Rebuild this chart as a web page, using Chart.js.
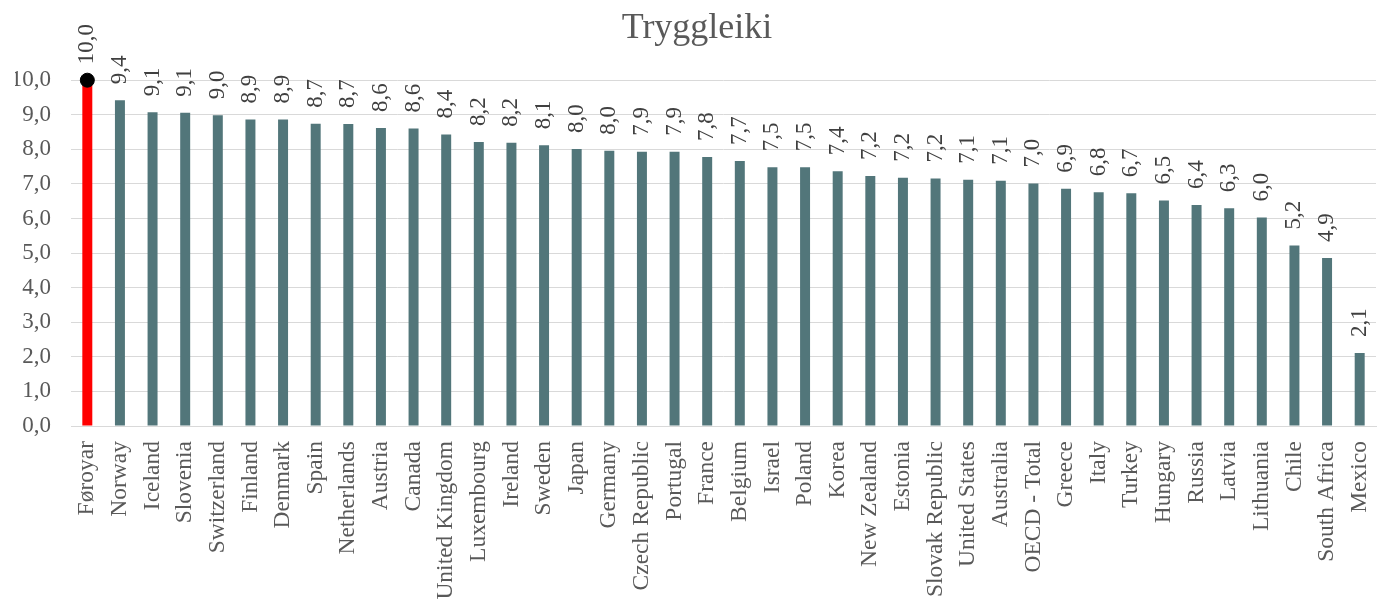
<!DOCTYPE html>
<html>
<head>
<meta charset="utf-8">
<script src="https://cdn.jsdelivr.net/npm/chart.js@4"></script>
<style>
  html, body { margin: 0; padding: 0; background: #ffffff; }
  #wrap { width: 1384px; height: 602px; position: relative; }
</style>
</head>
<body>
<div id="wrap"><canvas id="c"></canvas></div>
<script>
const chartTitle = "Tryggleiki";
const categories = ["Føroyar","Norway","Iceland","Slovenia","Switzerland","Finland","Denmark","Spain","Netherlands","Austria","Canada","United Kingdom","Luxembourg","Ireland","Sweden","Japan","Germany","Czech Republic","Portugal","France","Belgium","Israel","Poland","Korea","New Zealand","Estonia","Slovak Republic","United States","Australia","OECD - Total","Greece","Italy","Turkey","Hungary","Russia","Latvia","Lithuania","Chile","South Africa","Mexico"];
const values = [10.0,9.42,9.07,9.06,8.99,8.86,8.86,8.74,8.73,8.62,8.60,8.43,8.21,8.19,8.12,8.01,7.96,7.93,7.93,7.78,7.66,7.48,7.48,7.37,7.23,7.18,7.16,7.12,7.09,7.01,6.86,6.76,6.73,6.52,6.39,6.30,6.03,5.22,4.86,2.11];
const highlightCategory = "Føroyar";
const yTicks = [0,1,2,3,4,5,6,7,8,9,10];

const FONT = '"Liberation Serif", "Times New Roman", serif';
const barColors = categories.map(c => c === highlightCategory ? '#ff0000' : '#52767a');
const markerData = categories.map((c, i) => c === highlightCategory ? values[i] : null);
const fmt = v => v.toFixed(1).replace('.', ',');

const labelPlugin = {
  id: 'barLabels',
  afterDatasetsDraw(chart) {
    const meta = chart.getDatasetMeta(0);
    const ctx = chart.ctx;
    ctx.save();
    ctx.font = '23px ' + FONT;
    ctx.fillStyle = '#404040';
    ctx.textAlign = 'left';
    ctx.textBaseline = 'middle';
    meta.data.forEach((el, i) => {
      ctx.save();
      ctx.translate(el.x, el.y - 16);
      ctx.rotate(-Math.PI / 2);
      ctx.fillText(fmt(values[i]), 0, 0);
      ctx.restore();
    });
    ctx.restore();
  }
};

new Chart(document.getElementById('c'), {
  type: 'bar',
  data: {
    labels: categories,
    datasets: [
      {
        type: 'bar',
        data: values,
        backgroundColor: barColors,
        barPercentage: 0.306,
        categoryPercentage: 1.0,
        order: 1
      },
      {
        type: 'line',
        data: markerData,
        showLine: false,
        clip: false,
        pointRadius: 7,
        pointHoverRadius: 7,
        pointBackgroundColor: '#000000',
        pointBorderColor: '#000000',
        borderColor: '#000000',
        order: 0
      }
    ]
  },
  options: {
    responsive: true,
    maintainAspectRatio: false,
    animation: false,
    layout: { padding: { left: 15, right: 5, top: 0, bottom: 0 } },
    plugins: {
      legend: { display: false },
      tooltip: { enabled: false },
      title: {
        display: true,
        text: chartTitle,
        color: '#595959',
        font: { family: FONT, size: 36, weight: 'normal' },
        padding: { top: 7, bottom: 30 }
      }
    },
    scales: {
      x: {
        grid: { display: false, drawTicks: false },
        border: { display: true, color: '#d9d9d9', width: 1 },
        ticks: {
          autoSkip: false,
          maxRotation: 90,
          minRotation: 90,
          padding: 15,
          color: '#595959',
          font: { family: FONT, size: 23.5 }
        },
        afterFit(scale) {
          scale.height = 176;
          scale.paddingLeft = 0;
          scale.paddingRight = 0;
        }
      },
      y: {
        min: 0,
        max: 10,
        afterBuildTicks(scale) { scale.ticks = yTicks.map(v => ({ value: v })); },
        grid: { color: '#d9d9d9', lineWidth: 1, drawTicks: false },
        border: { display: false },
        ticks: {
          padding: 20,
          color: '#595959',
          font: { family: FONT, size: 23 },
          callback: v => fmt(v)
        },
        afterFit(scale) {
          scale.width = 56;
          scale.paddingTop = 0;
          scale.paddingBottom = 0;
        }
      }
    }
  },
  plugins: [labelPlugin]
});
</script>
</body>
</html>
